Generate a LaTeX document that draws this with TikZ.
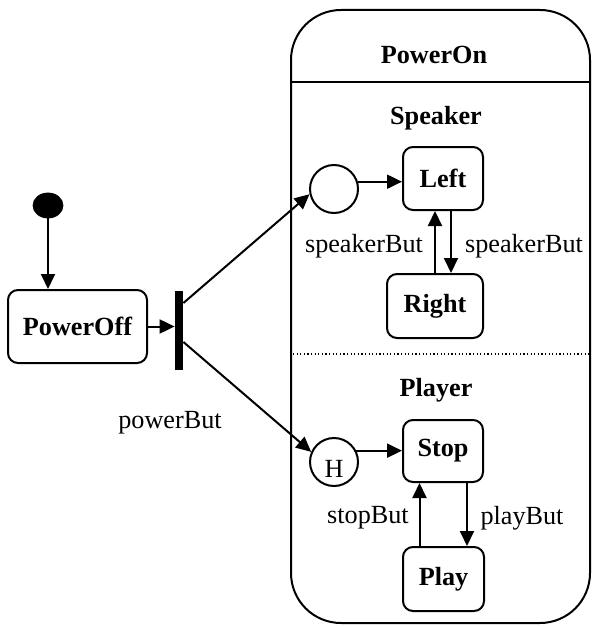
\documentclass[tikz,border=0pt]{standalone}
\usepackage{fontspec}
\setmainfont{Liberation Serif}
\usetikzlibrary{arrows.meta,shapes.geometric,calc}
\begin{document}
\begin{tikzpicture}[x=0.5pt,y=-0.5pt,
  font=\fontsize{13.1}{15}\selectfont,
  state/.style={draw,line width=1pt,rounded corners=5pt,font=\fontsize{13.1}{15}\selectfont\bfseries,inner sep=0pt},
  pseudo/.style={draw,circle,line width=1pt,minimum size=24pt,inner sep=0pt},
  arr/.style={line width=1pt,-{Triangle[length=7.5pt,width=7pt]}},
  title/.style={font=\fontsize{13.1}{15}\selectfont\bfseries}]
\useasboundingbox (0,0) rectangle (592,626);

% composite state
\node[draw,line width=1pt,rounded corners=25pt,minimum width=149.5pt,minimum height=306.5pt,inner sep=0pt] (poweron) at (440.5,316.5) {};
\draw[line width=1pt] (poweron.west |- 0,82) -- (poweron.east |- 0,82);
\draw[line width=0.8pt,dash pattern=on 0.6pt off 1.2pt] (293,354) -- (poweron.east |- 0,354);
\node[title] (tOn) at (434,55) {PowerOn};
\node[title] (tSpk) at (436,118) {Speaker};
\node[title] (tPly) at (436,390) {Player};

% outer states
\node[draw,ellipse,fill=black,minimum width=15pt,minimum height=12.5pt,inner sep=0pt] (init) at (48,205.5) {};
\node[state,minimum width=69.5pt,minimum height=36.5pt] (poweroff) at (77.5,326.5) {PowerOff};
\node[fill=black,minimum width=4pt,minimum height=39.5pt,inner sep=0pt] (bar) at (179,330.5) {};

% speaker region
\node[pseudo] (sinit) at (334,189) {};
\node[state,minimum width=40pt,minimum height=31.5pt] (left) at (443,178.5) {Left};
\node[state,minimum width=48pt,minimum height=32pt] (right) at (435,306) {Right};

% player region
\node[pseudo,label={[inner sep=0pt,yshift=-3.5pt]center:H}] (hist) at (334,462) {};
\node[state,minimum width=40pt,minimum height=31pt] (stop) at (443,451) {Stop};
\node[state,minimum width=40.5pt,minimum height=32pt] (play) at (443.5,579) {Play};

% transitions
\draw[arr] (init) -- (init |- poweroff.north);
\draw[arr] (poweroff.east) -- (poweroff.east -| bar.west);
\draw[arr] ($(bar.east)+(0,-27.5)$) -- (sinit.192);
\draw[arr] ($(bar.east)+(0,11.5)$) -- (hist.156);
\node (pb) at (170,423) {powerBut};

\draw[arr] (sinit.17) -- (sinit.17 -| left.west);
\draw[arr] (right.north) -- (right.north |- left.south);
\draw[arr] ([xshift=4pt]left.south) -- ([xshift=4pt]left.south |- right.north);
\node (sb1) at (364,246) {speakerBut};
\node (sb2) at (524,246) {speakerBut};

\draw[arr] (hist.27) -- (hist.27 -| stop.west);
\draw[arr] ([xshift=-12pt]play.north) -- ([xshift=-12pt]play.north |- stop.south);
\draw[arr] ([xshift=12pt]stop.south) -- ([xshift=12pt]stop.south |- play.north);
\node (stb) at (368,518) {stopBut};
\node (plb) at (522,518) {playBut};
\end{tikzpicture}
\end{document}
